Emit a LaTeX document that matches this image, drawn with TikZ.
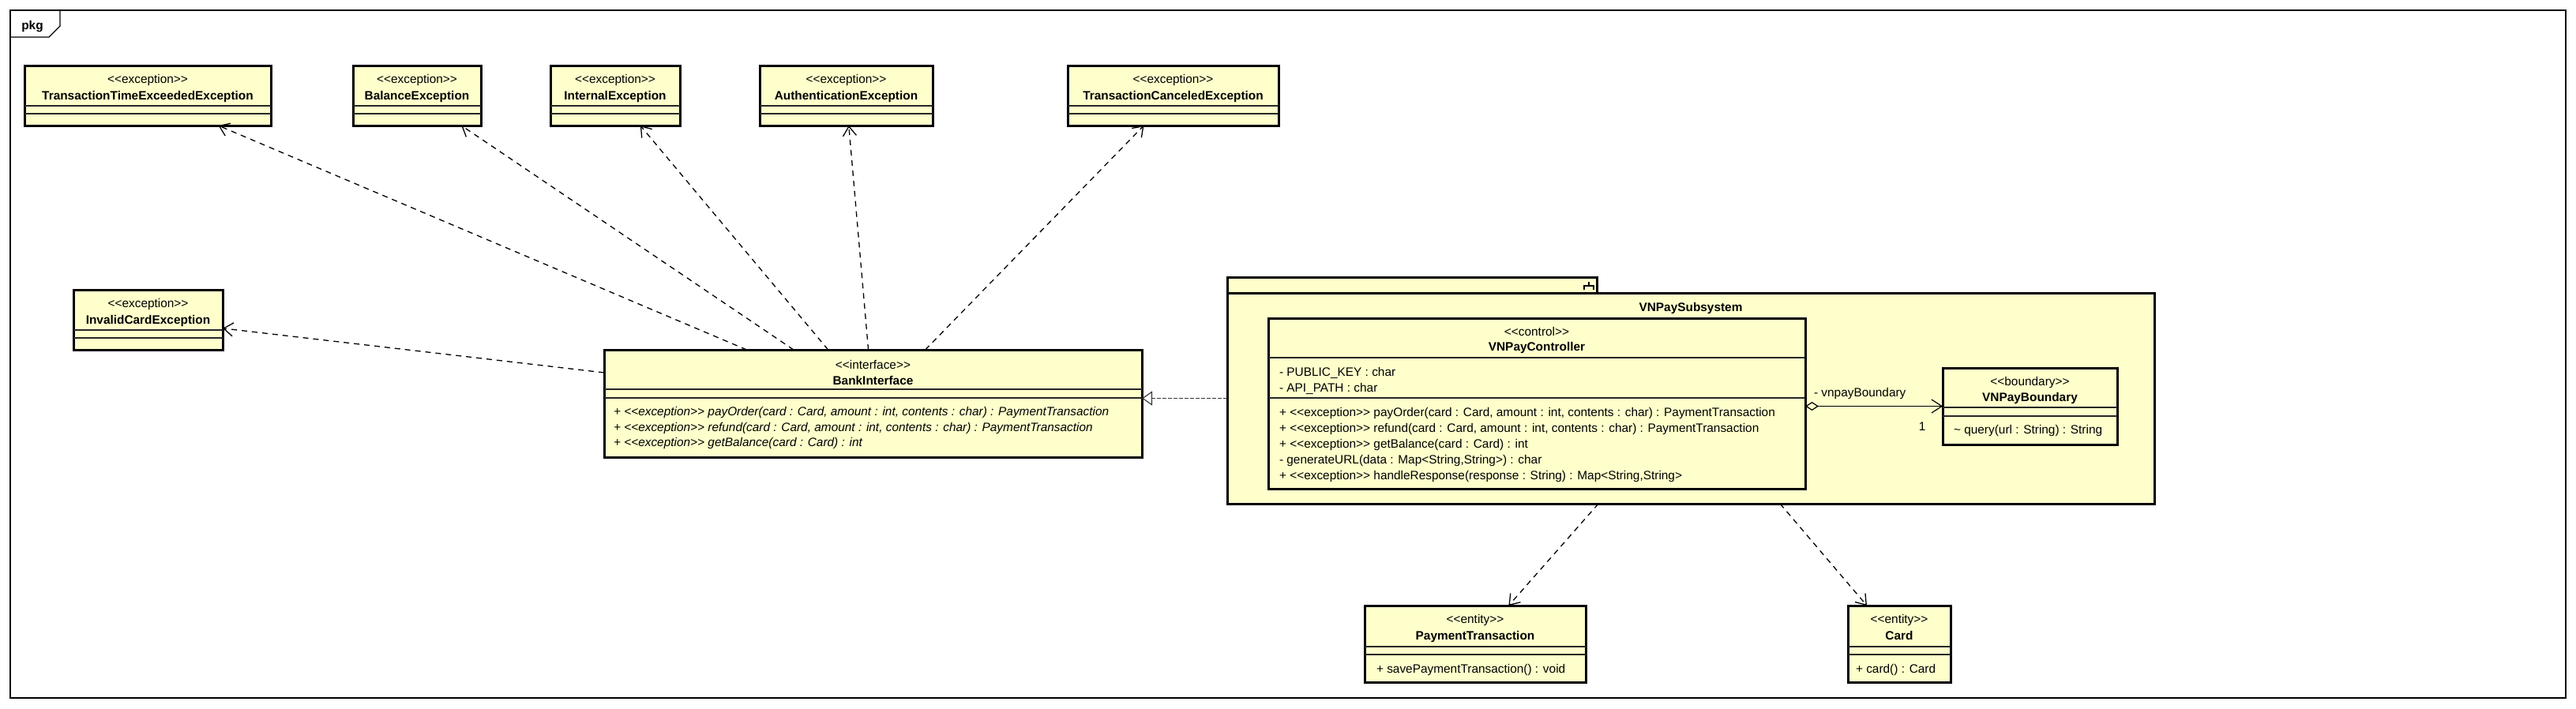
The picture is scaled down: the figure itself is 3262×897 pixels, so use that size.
\documentclass[tikz,border=0pt]{standalone}
\usepackage{fontspec}
\setmainfont{Liberation Sans}
\usetikzlibrary{arrows.meta}
\definecolor{umlfill}{HTML}{FFFFCC}
\newcommand\stt[1]{<\kern0pt<#1>\kern0pt>}
\tikzset{
  frame/.style={draw=black, line width=1.3pt},
  box/.style={draw=black, line width=3pt, fill=umlfill, rectangle, inner sep=0pt, outer sep=0pt},
  comp/.style={draw=black!85, line width=1.2pt},
  txt/.style={inner sep=0pt, outer sep=0pt, anchor=base, font=\fontsize{15.4}{19}\selectfont},
  ttl/.style={txt, font=\fontsize{15.4}{19}\selectfont\bfseries},
  mth/.style={txt, anchor=base west},
  mthi/.style={mth, font=\fontsize{15.4}{19}\selectfont\itshape},
  dep/.style={draw=black, line width=1.3pt, dash pattern=on 7pt off 6pt, -{Straight Barb[length=12pt,width=17pt]}},
  real/.style={draw=black!80, line width=1.1pt, dash pattern=on 5pt off 2pt, -{Triangle[open,length=13pt,width=18pt]}},
  assoc/.style={draw=black, line width=1.2pt, {Diamond[open,length=17pt,width=11pt]}-{Straight Barb[length=13pt,width=17pt]}},
}
\newcommand\exc[5]{%
  \node[box, minimum width={#3-#2}, minimum height=76] (#1) at ({(#2+#3)/2},{#4+38}) {};
  \draw[comp] (#2,{#4+51}) -- (#3,{#4+51});
  \draw[comp] (#2,{#4+61}) -- (#3,{#4+61});
  \node[txt] (#1-st) at ({(#2+#3)/2},{#4+22}) {\stt{exception}};
  \node[ttl] (#1-nm) at ({(#2+#3)/2},{#4+43}) {#5};
}
\begin{document}
\begin{tikzpicture}[x=1pt,y=-1pt]
\useasboundingbox (0,0) rectangle (3262,897);
% outer frame
\draw[frame] (13,13) rectangle (3249,884);
\draw[frame] (13,47) -- (62,47) -- (76,33) -- (76,13);
\node[ttl] (pkgname) at (41,37) {pkg};

% exceptions
\exc{tte}{31}{343}{83}{TransactionTimeExceededException}
\exc{bal}{447}{609}{83}{BalanceException}
\exc{intx}{697}{861}{83}{InternalException}
\exc{auth}{962}{1181}{83}{AuthenticationException}
\exc{tce}{1352}{1619}{83}{TransactionCanceledException}
\exc{inv}{93}{282}{367}{InvalidCardException}

% BankInterface
\node[box, minimum width=681, minimum height=136] (bank) at (1105.5,511) {};
\draw[comp] (765,493) -- (1446,493);
\draw[comp] (765,504) -- (1446,504);
\node[txt] (bank-st) at (1105.5,467) {\stt{interface}};
\node[ttl] (bank-nm) at (1105.5,487) {BankInterface};
\node[mthi] (bank-m1) at (777,526) {+ \stt{exception} payOrder(card : Card, amount : int, contents : char) : PaymentTransaction};
\node[mthi] (bank-m2) at (777,546) {+ \stt{exception} refund(card : Card, amount : int, contents : char) : PaymentTransaction};
\node[mthi] (bank-m3) at (777,565) {+ \stt{exception} getBalance(card : Card) : int};

% VNPay subsystem package
\draw[box] (1554,351) rectangle (2022,371);
\node[box, minimum width=1174, minimum height=267] (vnpay) at (2141,504.5) {};
\draw[line width=1.2pt] (2012,357) -- (2012,362);
\draw[line width=1.2pt] (2006,367) -- (2006,362) -- (2018,362) -- (2018,367);
\node[ttl] (vnpay-nm) at (2141,394) {VNPaySubsystem};

% VNPayController
\node[box, minimum width=680, minimum height=216] (ctrl) at (1946,511) {};
\draw[comp] (1606,453) -- (2286,453);
\draw[comp] (1606,504) -- (2286,504);
\node[txt] (ctrl-st) at (1946,425) {\stt{control}};
\node[ttl] (ctrl-nm) at (1946,444) {VNPayController};
\node[mth] (ctrl-a1) at (1620,476) {- PUBLIC\_KEY : char};
\node[mth] (ctrl-a2) at (1620,496) {- API\_PATH : char};
\node[mth] (ctrl-m1) at (1620,527) {+ \stt{exception} payOrder(card : Card, amount : int, contents : char) : PaymentTransaction};
\node[mth] (ctrl-m2) at (1620,547) {+ \stt{exception} refund(card : Card, amount : int, contents : char) : PaymentTransaction};
\node[mth] (ctrl-m3) at (1620,567) {+ \stt{exception} getBalance(card : Card) : int};
\node[mth] (ctrl-m4) at (1620,587) {- generateURL(data : Map<String,String>) : char};
\node[mth] (ctrl-m5) at (1620,607) {+ \stt{exception} handleResponse(response : String) : Map<String,String>};

% VNPayBoundary
\node[box, minimum width=221, minimum height=97] (bnd) at (2570.5,514.5) {};
\draw[comp] (2460,516) -- (2681,516);
\draw[comp] (2460,527) -- (2681,527);
\node[txt] (bnd-st) at (2570.5,488) {\stt{boundary}};
\node[ttl] (bnd-nm) at (2570.5,508) {VNPayBoundary};
\node[mth] (bnd-m1) at (2474,549) {\textasciitilde{} query(url : String) : String};

% PaymentTransaction
\node[box, minimum width=280, minimum height=97] (pt) at (1868,815.5) {};
\draw[comp] (1728,819) -- (2008,819);
\draw[comp] (1728,829) -- (2008,829);
\node[txt] (pt-st) at (1868,789) {\stt{entity}};
\node[ttl] (pt-nm) at (1868,810) {PaymentTransaction};
\node[mth] (pt-m1) at (1743,852) {+ savePaymentTransaction() : void};

% Card
\node[box, minimum width=130, minimum height=97] (card) at (2405,815.5) {};
\draw[comp] (2340,819) -- (2470,819);
\draw[comp] (2340,829) -- (2470,829);
\node[txt] (card-st) at (2405,789) {\stt{entity}};
\node[ttl] (card-nm) at (2405,810) {Card};
\node[mth] (card-m1) at (2350,852) {+ card() : Card};

% connectors
\draw[dep] (bank) -- (tte);
\draw[dep] (bank) -- (bal);
\draw[dep] (bank) -- (intx);
\draw[dep] (bank) -- (auth);
\draw[dep] (bank) -- (tce);
\draw[dep] (bank) -- (inv);
\draw[real] (vnpay.west) -- (bank.east |- vnpay.west);
\draw[assoc] (ctrl.east |- bnd.west) -- (bnd.west);
\node[mth] (role) at (2297,502) {- vnpayBoundary};
\node[txt] (mult) at (2434,545) {1};
\draw[dep] (vnpay) -- (pt);
\draw[dep] (vnpay) -- (card);
\end{tikzpicture}
\end{document}
